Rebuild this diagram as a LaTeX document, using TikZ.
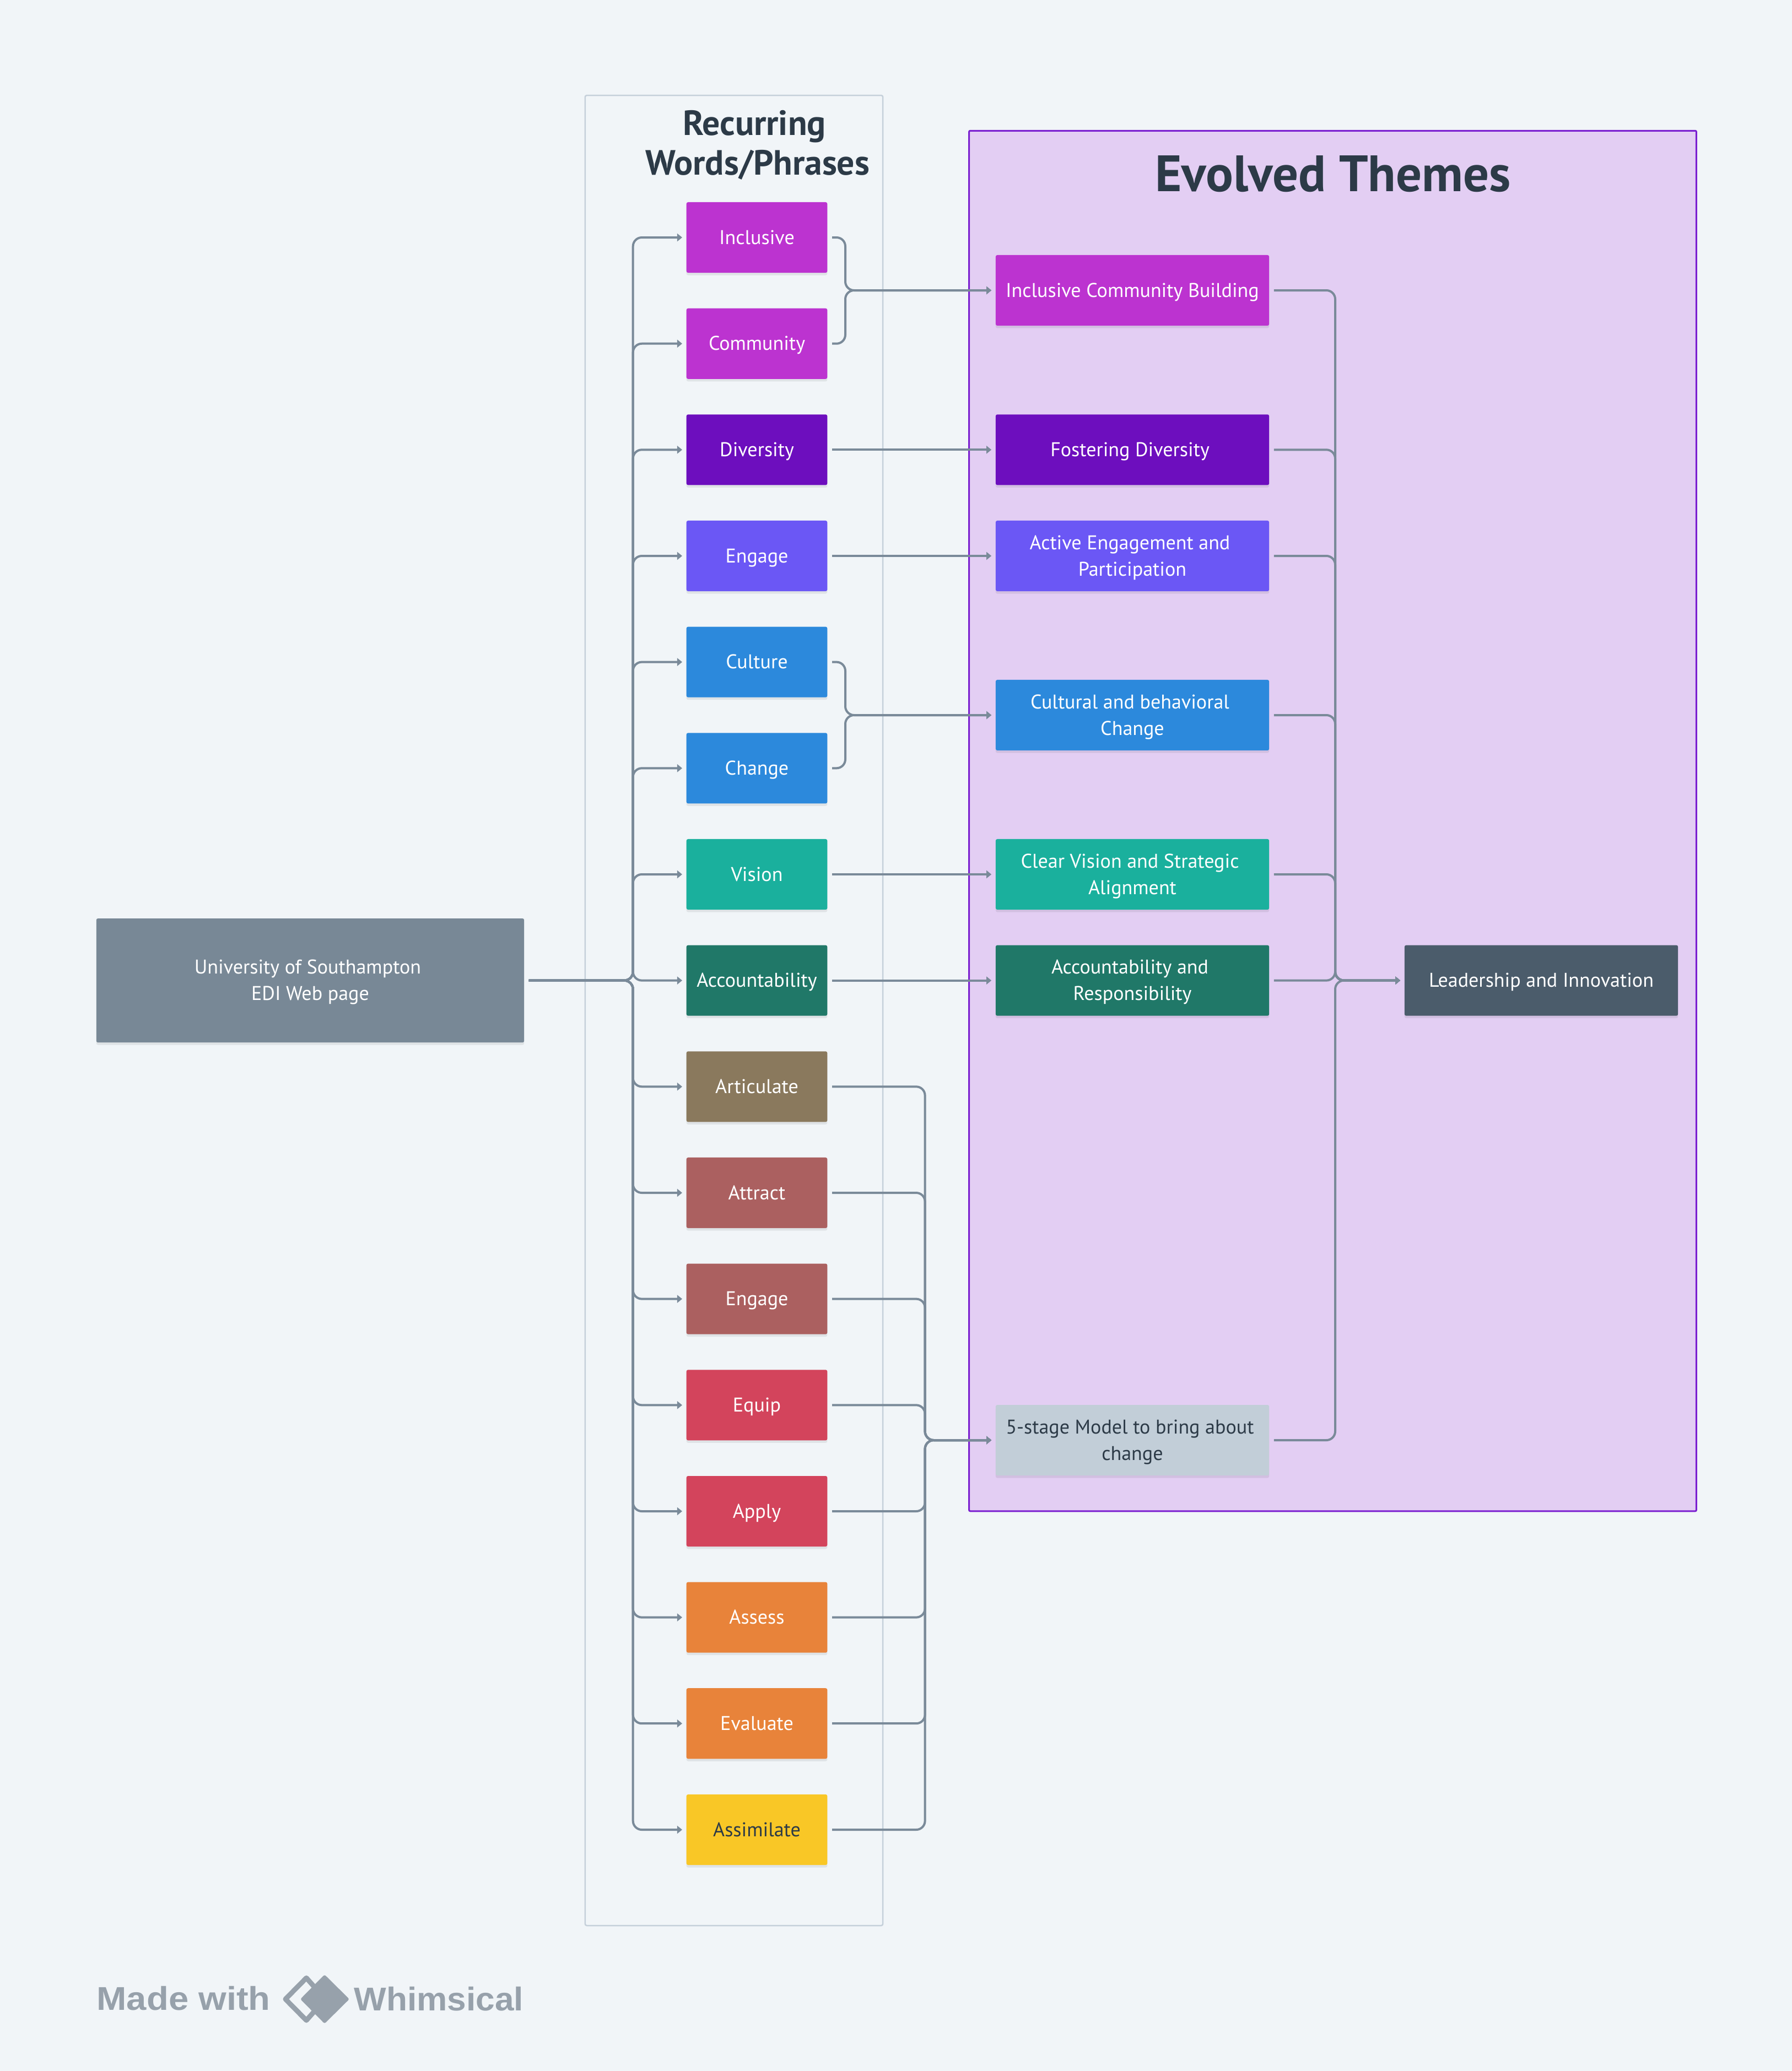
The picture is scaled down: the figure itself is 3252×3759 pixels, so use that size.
\documentclass[tikz,border=0pt]{standalone}
\usepackage{fontspec}
\setmainfont{PT Sans}
\newfontfamily\logofontA[FakeStretch=1.09]{Liberation Sans}
\newfontfamily\logofontB[FakeStretch=1.04]{Liberation Sans}
\usetikzlibrary{arrows.meta,shadows,calc}
\definecolor{bgc}{HTML}{F1F5F8}
\definecolor{linec}{HTML}{7A8A99}
\definecolor{darkc}{HTML}{2C3A47}
\definecolor{groupc}{HTML}{C5D0DA}
\definecolor{purplef}{HTML}{E3CEF3}
\definecolor{purpled}{HTML}{7B1FD0}
\definecolor{cInc}{HTML}{BC33D0}
\definecolor{cDiv}{HTML}{6D0EBE}
\definecolor{cEng}{HTML}{6B57F5}
\definecolor{cCul}{HTML}{2C89DC}
\definecolor{cVis}{HTML}{1AB09D}
\definecolor{cAcc}{HTML}{207868}
\definecolor{cArt}{HTML}{8A795D}
\definecolor{cAtt}{HTML}{AB6060}
\definecolor{cEqu}{HTML}{D3445C}
\definecolor{cAss}{HTML}{E8833A}
\definecolor{cSim}{HTML}{F9C726}
\definecolor{cLea}{HTML}{4B5C6B}
\definecolor{cFiv}{HTML}{C2CED8}
\definecolor{cSrc}{HTML}{788896}
\definecolor{logoc}{HTML}{97A1AB}
\newcommand{\toprule}{\rule{0pt}{0.34cm}}
\newcommand{\botrule}{\rule[-0.10cm]{0pt}{0.10cm}}
\newcommand{\ta}{\rule{0pt}{0.34cm}}
\newcommand{\tb}{\rule[-0.10cm]{0pt}{0.10cm}}
\tikzset{
  x=0.01cm,y=-0.01cm,
  box/.style={draw=none,rounded corners=0.03cm,inner sep=0pt,align=center,text=white,
    font=\fontsize{10.25}{13.66}\selectfont,
    drop shadow={shadow xshift=0cm,shadow yshift=-0.045cm,opacity=.07,fill=black}},
  single/.style={execute at begin node=\toprule,execute at end node=\botrule},
  word/.style={box,single,minimum width=2.555cm,minimum height=1.28cm},
  theme/.style={box,minimum width=4.96cm,minimum height=1.28cm},
  conn/.style={draw=linec,line width=0.04cm,rounded corners=0.16cm,shorten <=0.08cm,shorten >=0.07cm,
    -{Triangle[length=0.09cm,width=0.14cm]}},
  title/.style={inner sep=0pt,text=darkc,font=\bfseries\fontsize{18.1}{20.5}\selectfont,align=center},
  logotext/.style={inner sep=0pt,anchor=base west,text=logoc},
}
\begin{document}
\begin{tikzpicture}
\useasboundingbox (0,0) rectangle (3252,3759);
\fill[bgc] (0,0) rectangle (3252,3759);
% containers
\node[draw=groupc,line width=0.025cm,rounded corners=0.03cm,fill=bgc,minimum width=5.4cm,minimum height=33.2cm,inner sep=0pt] (grp) at (1332,1834) {};
\node[draw=purpled,line width=0.03cm,rounded corners=0.02cm,fill=purplef,minimum width=13.19cm,minimum height=25.04cm,inner sep=0pt] (themes) at (2418.5,1490) {};
\node[title] (t1) at (1369,263) {Recurring\\[0pt]\hspace*{0.12cm}Words/Phrases};
\node[title,font=\bfseries\fontsize{26.4}{30}\selectfont] (t2) at (2419,316) {Evolved Themes};
% trunks
\coordinate (tL) at (1148.7,0);
\coordinate (tA) at (1534,0);
\coordinate (tR) at (1678.6,0);
\coordinate (tT) at (2423,0);
% nodes
\node[box,fill=cSrc,minimum width=7.76cm,minimum height=2.25cm] (src) at (563,1779.6) {\ta University of Southampton\hspace*{0.09cm}\\EDI Web page\tb};
\node[word,fill=cInc] (w0) at (1373.5,431) {Inclusive};
\node[word,fill=cInc] (w1) at (1373.5,623.7) {Community};
\node[word,fill=cDiv] (w2) at (1373.5,816.3) {Diversity};
\node[word,fill=cEng] (w3) at (1373.5,1009) {Engage};
\node[word,fill=cCul] (w4) at (1373.5,1201.6) {Culture};
\node[word,fill=cCul] (w5) at (1373.5,1394.3) {Change};
\node[word,fill=cVis] (w6) at (1373.5,1587) {Vision};
\node[word,fill=cAcc] (w7) at (1373.5,1779.6) {Accountability};
\node[word,fill=cArt] (w8) at (1373.5,1972.3) {Articulate};
\node[word,fill=cAtt] (w9) at (1373.5,2165) {Attract};
\node[word,fill=cAtt] (w10) at (1373.5,2357.6) {Engage};
\node[word,fill=cEqu] (w11) at (1373.5,2550.3) {Equip};
\node[word,fill=cEqu] (w12) at (1373.5,2743) {Apply};
\node[word,fill=cAss] (w13) at (1373.5,2935.6) {Assess};
\node[word,fill=cAss] (w14) at (1373.5,3128.2) {Evaluate};
\node[word,fill=cSim,text=darkc] (w15) at (1373.5,3321) {Assimilate};
\node[theme,single,fill=cInc] (a1) at (2055,527) {Inclusive Community Building};
\node[theme,single,fill=cDiv] (a2) at (2055,816.3) {Fostering Diversity\hspace*{0.09cm}};
\node[theme,fill=cEng] (a3) at (2055,1009) {\ta Active Engagement and\hspace*{0.09cm}\\Participation\tb};
\node[theme,fill=cCul] (a4) at (2055,1298) {\ta Cultural and behavioral\hspace*{0.09cm}\\Change\tb};
\node[theme,fill=cVis] (a5) at (2055,1587) {\ta Clear Vision and Strategic\hspace*{0.09cm}\\Alignment\tb};
\node[theme,fill=cAcc] (a6) at (2055,1779.6) {\ta Accountability and\hspace*{0.09cm}\\Responsibility\tb};
\node[theme,fill=cFiv,text=darkc] (a7) at (2055,2614) {\ta 5-stage Model to bring about\hspace*{0.09cm}\\change\tb};
\node[theme,single,fill=cLea] (lead) at (2797,1779.6) {Leadership and Innovation};
% source to words
\foreach \w in {w0,w1,w2,w3,w4,w5,w6,w7,w8,w9,w10,w11,w12,w13,w14,w15}
  \draw[conn] (src.east) -- (src.east -| tL) -- (tL |- \w.west) -- (\w.west);
% words to themes
\draw[conn] (w0.east) -- (w0.east -| tA) -- (tA |- a1.west) -- (a1.west);
\draw[conn] (w1.east) -- (w1.east -| tA) -- (tA |- a1.west) -- (a1.west);
\draw[conn] (w2.east) -- (a2.west);
\draw[conn] (w3.east) -- (a3.west);
\draw[conn] (w4.east) -- (w4.east -| tA) -- (tA |- a4.west) -- (a4.west);
\draw[conn] (w5.east) -- (w5.east -| tA) -- (tA |- a4.west) -- (a4.west);
\draw[conn] (w6.east) -- (a5.west);
\draw[conn] (w7.east) -- (a6.west);
\foreach \w in {w8,w9,w10,w11,w12,w13,w14,w15}
  \draw[conn] (\w.east) -- (\w.east -| tR) -- (tR |- a7.west) -- (a7.west);
% themes to leadership
\foreach \w in {a1,a2,a3,a4,a5,a6,a7}
  \draw[conn] (\w.east) -- (\w.east -| tT) -- (tT |- lead.west) -- (lead.west);
% footer
\node[logotext,font=\logofontA\bfseries\fontsize{17}{20}\selectfont] (made) at (175,3648) {Made with};
\node[logotext,font=\logofontB\bfseries\fontsize{17}{20}\selectfont] (whim) at (642,3649) {Whimsical};
\draw[logoc,line width=0.09cm,line join=round] (556,3590) -- (518,3628.5) -- (556,3667) -- (590,3628.5) -- cycle;
\fill[logoc,rounded corners=0.03cm] (589,3584) -- (634,3628.5) -- (589,3673) -- (545,3628.5) -- cycle;
\end{tikzpicture}
\end{document}
